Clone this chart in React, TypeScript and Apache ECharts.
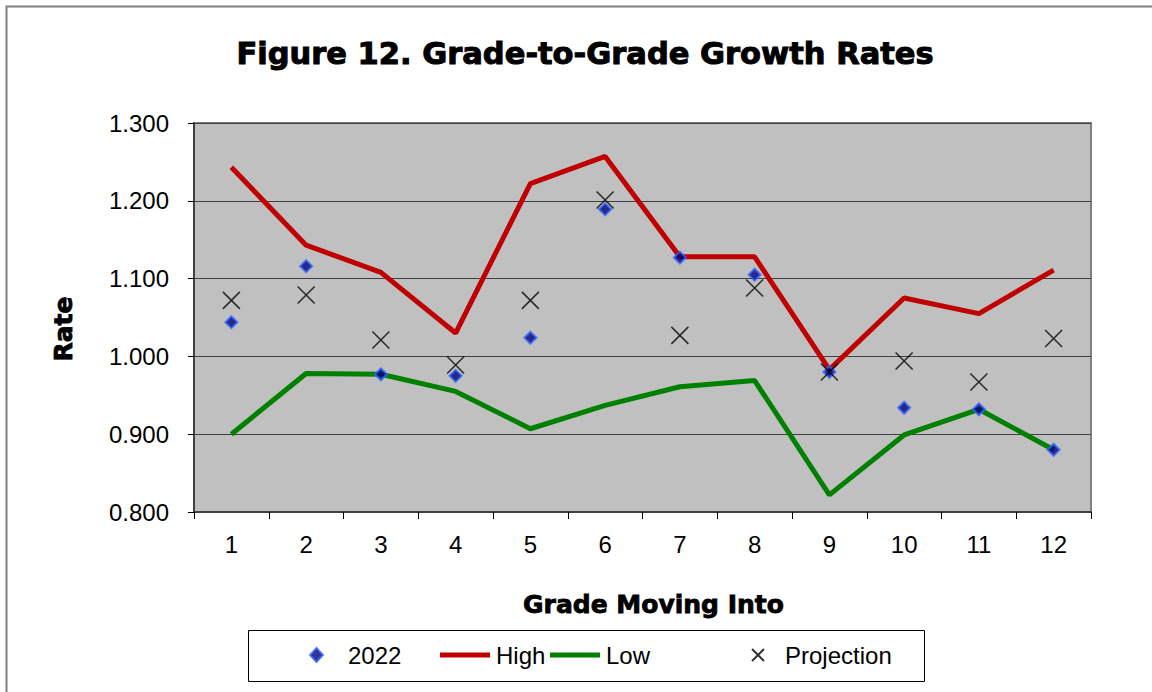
import React, { useEffect, useRef } from "react";
import * as echarts from "echarts";

const grades = ["1", "2", "3", "4", "5", "6", "7", "8", "9", "10", "11", "12"];
const actual2022 = [1.044, 1.116, 0.977, 0.975, 1.024, 1.189, 1.127, 1.105, 0.98, 0.934, 0.932, 0.88];
const high = [1.243, 1.143, 1.108, 1.03, 1.222, 1.257, 1.128, 1.128, 0.983, 1.075, 1.055, 1.111];
const low = [0.9, 0.978, 0.977, 0.955, 0.907, 0.937, 0.961, 0.969, 0.822, 0.899, 0.932, 0.88];
const projection = [1.072, 1.079, 1.021, 0.989, 1.072, 1.201, 1.027, 1.088, 0.98, 0.994, 0.967, 1.023];

const FONT = "'Liberation Sans', Arial, sans-serif";
const HEAVY = "'DejaVu Sans', sans-serif";

export default function App() {
  const ref = useRef<HTMLDivElement>(null);
  useEffect(() => {
    if (!ref.current) return;
    const chart = echarts.init(ref.current, null, { renderer: "svg" });
    const legendBase = {
      orient: "horizontal",
      top: 643,
      padding: 0,
      itemGap: 0,
    };
    const legendText = { fontFamily: FONT, fontSize: 24, color: "#000" };
    chart.setOption({
      animation: false,
      backgroundColor: "#fff",
      title: {
        text: "Figure 12. Grade-to-Grade Growth Rates",
        left: 580,
        top: 33,
        textAlign: "center",
        textStyle: {
          fontFamily: HEAVY,
          fontWeight: "bold",
          fontSize: 30.5,
          color: "#000",
          textBorderColor: "#000",
          textBorderWidth: 1,
        },
      },
      graphic: [
        {
          type: "rect",
          shape: { x: 6.5, y: 6.5, width: 1300, height: 900 },
          style: { fill: "none", stroke: "#808080", lineWidth: 2 },
          silent: true,
        },
        {
          type: "rect",
          shape: { x: 248.5, y: 630.5, width: 676, height: 51 },
          style: { fill: "none", stroke: "#000", lineWidth: 1 },
          silent: true,
        },
      ],
      legend: [
        {
          ...legendBase,
          left: 309,
          itemWidth: 13,
          itemHeight: 14,
          data: [{ name: "2022", icon: "diamond" }],
          textStyle: { ...legendText, padding: [0, 0, 0, 20] },
        },
        {
          ...legendBase,
          left: 440,
          itemWidth: 50,
          itemHeight: 5,
          data: [{ name: "High", icon: "rect" }],
          textStyle: { ...legendText, padding: [0, 0, 0, 1] },
        },
        {
          ...legendBase,
          left: 550,
          itemWidth: 50,
          itemHeight: 5,
          data: [{ name: "Low", icon: "rect" }],
          textStyle: { ...legendText, padding: [0, 0, 0, 1] },
        },
        {
          ...legendBase,
          left: 751,
          itemWidth: 12,
          itemHeight: 12,
          data: [{ name: "Projection" }],
          textStyle: { ...legendText, padding: [0, 0, 0, 16] },
        },
      ],
      grid: {
        left: 194,
        top: 123,
        right: 61,
        bottom: 180,
        show: true,
        backgroundColor: "#C0C0C0",
        borderColor: "#808080",
        borderWidth: 2,
      },
      xAxis: {
        type: "category",
        data: grades,
        boundaryGap: true,
        name: "Grade Moving Into",
        nameLocation: "middle",
        nameGap: 80,
        nameTextStyle: {
          fontFamily: HEAVY,
          fontWeight: "bold",
          fontSize: 25,
          color: "#000",
          padding: [0, 0, 0, 22],
          textBorderColor: "#000",
          textBorderWidth: 0.8,
        },
        axisLine: { show: true, lineStyle: { color: "#404040", width: 2 } },
        axisTick: { show: true, alignWithLabel: false, length: 7, lineStyle: { color: "#000", width: 1 } },
        axisLabel: { fontFamily: FONT, fontSize: 24, color: "#000", margin: 20 },
        splitLine: { show: false },
      },
      yAxis: {
        type: "value",
        min: 0.8,
        max: 1.3,
        interval: 0.1,
        name: "Rate",
        nameLocation: "middle",
        nameGap: 118,
        nameTextStyle: {
          fontFamily: HEAVY,
          fontWeight: "bold",
          fontSize: 25,
          color: "#000",
          padding: [0, 23, 0, 0],
          textBorderColor: "#000",
          textBorderWidth: 0.8,
        },
        axisLine: { show: true, lineStyle: { color: "#404040", width: 2 } },
        axisTick: { show: true, length: 6, lineStyle: { color: "#000", width: 1 } },
        axisLabel: {
          fontFamily: FONT,
          fontSize: 24,
          color: "#000",
          margin: 25,
          formatter: (v: number) => v.toFixed(3),
        },
        splitLine: { show: true, lineStyle: { color: "#404040", width: 1 } },
      },
      series: [
        {
          name: "2022",
          type: "scatter",
          data: actual2022,
          symbol: "diamond",
          symbolSize: 12,
          z: 4,
          itemStyle: { color: "#000080", borderColor: "#3366FF", borderWidth: 2 },
        },
        {
          name: "High",
          type: "line",
          data: high,
          symbol: "none",
          z: 2,
          lineStyle: { color: "#C00000", width: 5 },
          itemStyle: { color: "#C00000" },
        },
        {
          name: "Low",
          type: "line",
          data: low,
          symbol: "none",
          z: 2,
          lineStyle: { color: "#008000", width: 5 },
          itemStyle: { color: "#008000" },
        },
        {
          name: "Projection",
          type: "scatter",
          data: projection,
          symbol: "path://M0,0L10,10M10,0L0,10",
          symbolSize: 17,
          z: 5,
          itemStyle: { color: "rgba(0,0,0,0)", borderColor: "#000", borderWidth: 1.5 },
        },
      ],
    });
    return () => chart.dispose();
  }, []);
  return (
    <div
      ref={ref}
      style={{ position: "absolute", left: 0, top: 0, width: 1152, height: 692 }}
    />
  );
}
